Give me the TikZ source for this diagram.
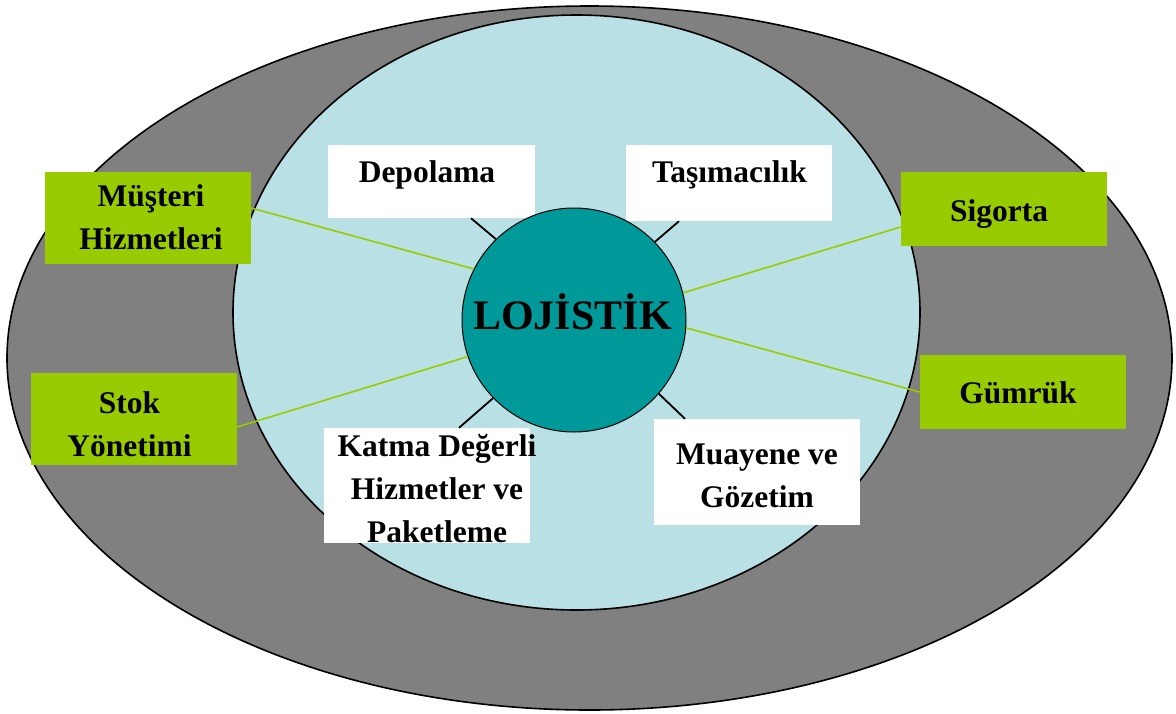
\documentclass[tikz,border=0pt]{standalone}
\usepackage{fontspec}
\setmainfont{Liberation Serif}
\definecolor{ringgray}{RGB}{128,128,128}
\definecolor{innerblue}{RGB}{185,224,228}
\definecolor{lteal}{RGB}{0,153,153}
\definecolor{lgreen}{RGB}{153,204,0}
\begin{document}
\begin{tikzpicture}[x=1pt,y=-1pt,
  box/.style={rectangle,draw=none,inner sep=0pt},
  whitebox/.style={box,fill=white},
  greenbox/.style={box,fill=lgreen},
  txt/.style={font=\fontsize{31.5}{43}\selectfont\bfseries,align=center,inner sep=0pt,anchor=base},
  blackconn/.style={draw=black,line width=1.8pt},
  greenconn/.style={draw=lgreen,line width=1.6pt}]
\useasboundingbox (0,0) rectangle (1176,713);
% rings
\draw[fill=ringgray,line width=1.6pt] (589.5,358) ellipse [x radius=582.5pt,y radius=352pt];
\draw[fill=innerblue,line width=1.6pt] (576.5,312.5) ellipse [x radius=343.5pt,y radius=297.5pt];
% boxes
\node[whitebox,minimum width=207pt,minimum height=73pt] (dep) at (431.5,181.5) {};
\node[whitebox,minimum width=206pt,minimum height=76pt] (tas) at (729,183) {};
\node[greenbox,minimum width=206pt,minimum height=92pt] (mus) at (148,218) {};
\node[greenbox,minimum width=206pt,minimum height=74pt] (sig) at (1004,209) {};
\node[greenbox,minimum width=206pt,minimum height=92pt] (stok) at (134,419) {};
\node[greenbox,minimum width=206pt,minimum height=74pt] (gum) at (1023,392) {};
\node[whitebox,minimum width=206pt,minimum height=115pt] (kat) at (427,485.5) {};
\node[whitebox,minimum width=206pt,minimum height=106pt] (mua) at (757,472) {};
% centre
\node[circle,fill=lteal,draw=black,line width=1pt,minimum size=224pt,inner sep=0pt] (lj) at (574,320) {};
% connectors
\draw[blackconn] (lj.134) -- ([xshift=39.5pt]dep.south);
\draw[blackconn] (lj.44) -- ([xshift=-50pt]tas.south);
\draw[blackconn] (lj.224) -- ([xshift=32pt]kat.north);
\draw[blackconn] (lj.-41) -- ([xshift=-72pt]mua.north);
\draw[greenconn] (lj.153) -- ([yshift=10pt]mus.east);
\draw[greenconn] (lj.199) -- ([yshift=-8pt]stok.east);
\draw[greenconn] (lj.14) -- ([yshift=-18pt]sig.west);
\draw[greenconn] (lj.-4) -- (gum.west);
% texts (multi-line nodes: base = last line's baseline)
\node[txt,font=\fontsize{42}{50}\selectfont\bfseries] (ljT) at (572.5,329) {LOJİSTİK};
\node[txt] (depT) at (427,182) {Depolama};
\node[txt] (tasT) at (729.5,182) {Taşımacılık};
\node[txt] (musT) at (151,249) {Müşteri\\Hizmetleri};
\node[txt] (sigT) at (999,221) {Sigorta};
\node[txt] (stokT) at (129.5,456) {Stok\\Yönetimi};
\node[txt] (gumT) at (1018,403) {Gümrük};
\node[txt] (katT) at (437,542) {Katma Değerli\\Hizmetler ve\\Paketleme};
\node[txt] (muaT) at (757,507) {Muayene ve\\Gözetim};
\end{tikzpicture}
\end{document}
